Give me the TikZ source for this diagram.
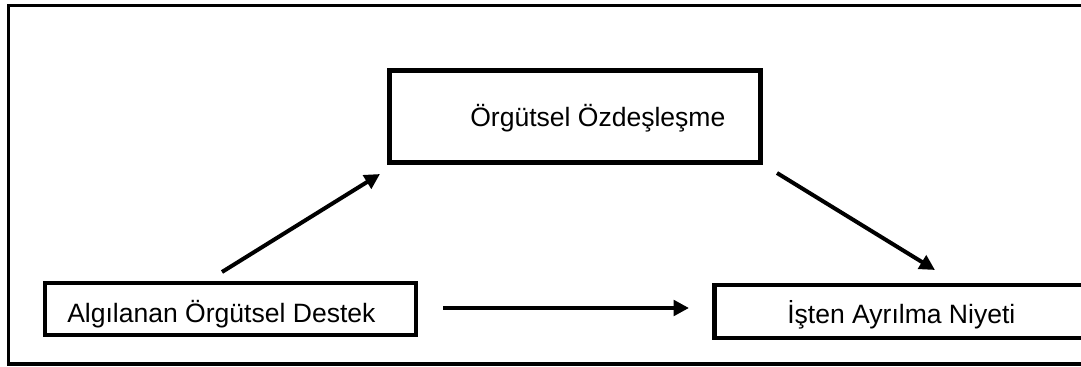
\documentclass[tikz,border=0pt]{standalone}
\usepackage{fontspec}
\setmainfont{Liberation Sans}
\usetikzlibrary{arrows.meta}
\begin{document}
\begin{tikzpicture}[x=0.75pt,y=-0.75pt,
  boxnode/.style={draw=black,line width=3.4pt,rectangle,inner sep=0pt,fill=none},
  lbl/.style={anchor=base west,inner sep=0pt,font=\fontsize{19.9}{24}\selectfont},
  conn/.style={line width=3pt,-{Triangle[length=11.5pt,width=11.5pt]}}]
\useasboundingbox (0,0) rectangle (1081,367);
\fill[white] (0,0) rectangle (1081,367);
% outer frame (right side runs past the picture edge)
\node[draw=black,line width=2.3pt,inner sep=0pt,minimum width=1092pt*0.75,minimum height=358.5pt*0.75] (frame) at (554.5,184.75) {};
% boxes
\node[boxnode,minimum width=371pt*0.75,minimum height=52pt*0.75] (A) at (230.5,309) {};
\node[boxnode,minimum width=371pt*0.75,minimum height=92pt*0.75] (B) at (575,116.5) {};
\node[boxnode,minimum width=385pt*0.75,minimum height=53pt*0.75] (C) at (907,311.5) {};
% labels
\node[lbl] (tA) at (67,322) {Algılanan Örgütsel Destek};
\node[lbl] (tB) at (470,127) {Örgütsel Özdeşleşme};
\node[lbl] (tC) at (787,323) {İşten Ayrılma Niyeti};
% connector ends
\coordinate (a1) at (222,272);
\coordinate (b1) at (380,174);
\coordinate (b2) at (777,173);
\coordinate (c1) at (935,270);
\coordinate (a2) at (443,308);
\coordinate (c2) at (689,308);
\draw[conn] (a1) -- (b1);
\draw[conn] (b2) -- (c1);
\draw[conn] (a2) -- (c2);
\end{tikzpicture}
\end{document}
